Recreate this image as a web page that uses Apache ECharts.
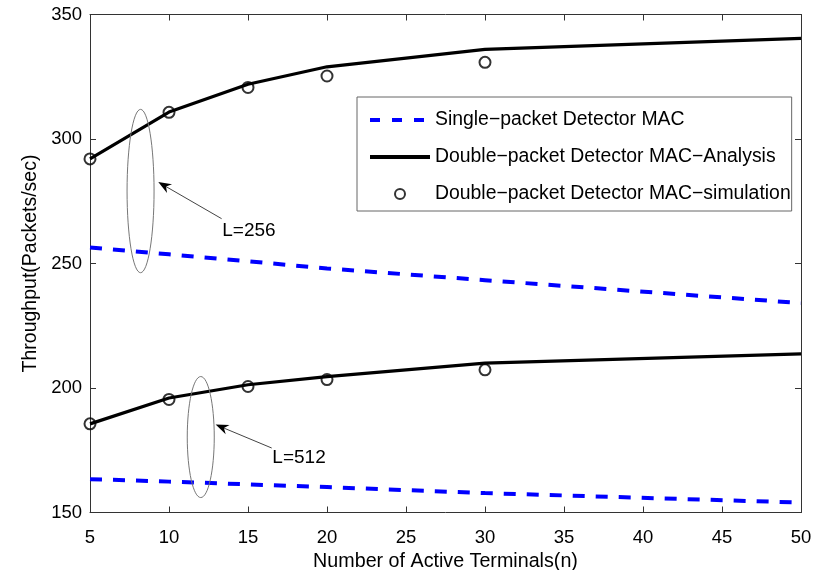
<!DOCTYPE html>
<html>
<head>
<meta charset="utf-8">
<script src="https://cdn.jsdelivr.net/npm/echarts@6/dist/echarts.min.js"></script>
<style>
  html, body { margin: 0; padding: 0; background: #fff; }
  #chart { width: 817px; height: 570px; }
</style>
</head>
<body>
<div id="chart"></div>
<script>
// Number of active terminals at which each curve is evaluated
const terminals = [5, 10, 15, 20, 30, 50];
const simTerminals = [5, 10, 15, 20, 30];

// Throughput (packets/sec), packet length L = 256
const singleL256 = [256.4, 253.7, 250.9, 248.0, 243.3, 234.1];
const doubleL256 = [292.0, 310.8, 322.0, 329.0, 336.0, 340.4];
const simL256 = [292.0, 310.7, 320.7, 325.3, 330.8];

// Throughput (packets/sec), packet length L = 512
const singleL512 = [163.4, 162.4, 161.3, 160.2, 157.8, 154.0];
const doubleL512 = [185.6, 196.0, 201.3, 204.6, 210.0, 213.7];
const simL512 = [185.6, 195.4, 200.6, 203.4, 207.3];

const seriesNames = [
  'Single\u2212packet Detector MAC',
  'Double\u2212packet Detector MAC\u2212Analysis',
  'Double\u2212packet Detector MAC\u2212simulation'
];
const groupLabels = ['L=256', 'L=512'];

const FONT = '"Liberation Sans", Arial, sans-serif';

function pairs(xs, ys) {
  return ys.map((y, i) => [xs[i], y]);
}

function singleSeries(values) {
  return {
    name: seriesNames[0], type: 'line', data: pairs(terminals, values),
    symbol: 'none', z: 2,
    lineStyle: { color: '#0000ff', width: 4, type: [12, 11] },
    itemStyle: { color: '#0000ff' }
  };
}
function analysisSeries(values) {
  return {
    name: seriesNames[1], type: 'line', data: pairs(terminals, values),
    symbol: 'none', z: 3,
    lineStyle: { color: '#000', width: 3.2 },
    itemStyle: { color: '#000' }
  };
}
function simSeries(values) {
  return {
    name: seriesNames[2], type: 'scatter', data: pairs(simTerminals, values),
    symbol: 'circle', symbolSize: 11, z: 4,
    itemStyle: { color: 'rgba(0,0,0,0)', borderColor: '#000', borderWidth: 2 }
  };
}

const axisLineStyle = { lineStyle: { color: '#333', width: 1 } };
const innerTick = { inside: true, length: 6, lineStyle: { color: '#333', width: 1 } };

const chart = echarts.init(document.getElementById('chart'), null, { renderer: 'canvas' });

chart.setOption({
  animation: false,
  backgroundColor: '#fff',
  grid: { left: 90, right: 16, top: 14.5, bottom: 57.5, containLabel: false, outerBoundsMode: 'none' },
  xAxis: [{
    type: 'value', min: 5, max: 50, interval: 5,
    name: 'Number of Active Terminals(n)', nameLocation: 'middle', nameGap: 33,
    nameTextStyle: { fontFamily: FONT, fontSize: 19.7, color: '#000' },
    axisLine: axisLineStyle, axisTick: innerTick,
    axisLabel: { fontFamily: FONT, fontSize: 18.5, color: '#000', margin: 15.5 },
    splitLine: { show: false }
  }, {
    type: 'value', position: 'top', min: 5, max: 50, interval: 5,
    axisLine: axisLineStyle, axisTick: innerTick,
    axisLabel: { show: false }, splitLine: { show: false }
  }],
  yAxis: [{
    type: 'value', min: 150, max: 350, interval: 50,
    name: 'Throughput(Packets/sec)', nameLocation: 'middle', nameGap: 48,
    nameTextStyle: { fontFamily: FONT, fontSize: 19.5, color: '#000' },
    axisLine: { show: true, lineStyle: { color: '#333', width: 1 } }, axisTick: innerTick,
    axisLabel: { fontFamily: FONT, fontSize: 18.5, color: '#000', margin: 8 },
    splitLine: { show: false }
  }, {
    type: 'value', position: 'right', min: 150, max: 350, interval: 50,
    axisLine: { show: true, lineStyle: { color: '#333', width: 1 } }, axisTick: innerTick,
    axisLabel: { show: false }, splitLine: { show: false }
  }],
  legend: {
    orient: 'vertical', left: 357, top: 97,
    padding: [12, 1, 6, 11],
    itemWidth: 60, itemHeight: 10, itemGap: 15,
    backgroundColor: '#fff', borderColor: '#666', borderWidth: 1,
    textStyle: { fontFamily: FONT, fontSize: 19.4, color: '#000', lineHeight: 22 },
    data: [
      { name: seriesNames[0], itemStyle: { opacity: 0 },
        lineStyle: { color: '#0000ff', width: 4, type: [10, 12] } },
      { name: seriesNames[1], itemStyle: { opacity: 0 },
        lineStyle: { color: '#000', width: 4 } },
      { name: seriesNames[2] }
    ]
  },
  series: [
    singleSeries(singleL256), analysisSeries(doubleL256), simSeries(simL256),
    singleSeries(singleL512), analysisSeries(doubleL512), simSeries(simL512)
  ]
});

// Callouts: ellipse around each pair of curves, with an arrow from the label.
// Anchors are given in axis units and converted through the grid.
const callouts = [
  { label: groupLabels[0], center: [8.2, 279.1], halfHeight: 32.8, tip: [9.32, 282.7], tail: [13.33, 268.0], text: [13.37, 263.3] },
  { label: groupLabels[1], center: [12.01, 180.3], halfHeight: 24.3, tip: [12.95, 185.3], tail: [16.5, 175.9], text: [16.54, 172.1] }
];
const ELLIPSE_RX = 13.5;

function px(p) { return chart.convertToPixel({ gridIndex: 0 }, p); }

const graphics = [];
callouts.forEach(c => {
  const ctr = px(c.center);
  const top = px([c.center[0], c.center[1] + c.halfHeight]);
  graphics.push({
    type: 'ellipse', silent: true, z: 10,
    shape: { cx: ctr[0], cy: ctr[1], rx: ELLIPSE_RX, ry: Math.abs(ctr[1] - top[1]) },
    style: { fill: 'none', stroke: '#777', lineWidth: 1 }
  });
  const tip = px(c.tip), tail = px(c.tail);
  const dx = tip[0] - tail[0], dy = tip[1] - tail[1];
  const len = Math.hypot(dx, dy);
  const ux = dx / len, uy = dy / len, nx = -uy, ny = ux;
  const headLen = 13, headHalf = 5, notch = 9;
  graphics.push({
    type: 'line', silent: true, z: 10,
    shape: { x1: tail[0], y1: tail[1], x2: tip[0] - ux * notch, y2: tip[1] - uy * notch },
    style: { stroke: '#444', lineWidth: 1 }
  });
  graphics.push({
    type: 'polygon', silent: true, z: 10,
    shape: { points: [
      [tip[0], tip[1]],
      [tip[0] - ux * headLen + nx * headHalf, tip[1] - uy * headLen + ny * headHalf],
      [tip[0] - ux * notch, tip[1] - uy * notch],
      [tip[0] - ux * headLen - nx * headHalf, tip[1] - uy * headLen - ny * headHalf]
    ] },
    style: { fill: '#000' }
  });
  const tp = px(c.text);
  graphics.push({
    type: 'text', silent: true, z: 10, x: tp[0], y: tp[1],
    style: { text: c.label, fontFamily: FONT, fontSize: 19, fill: '#000', align: 'left', verticalAlign: 'middle' }
  });
});
chart.setOption({ graphic: graphics });
</script>
</body>
</html>
